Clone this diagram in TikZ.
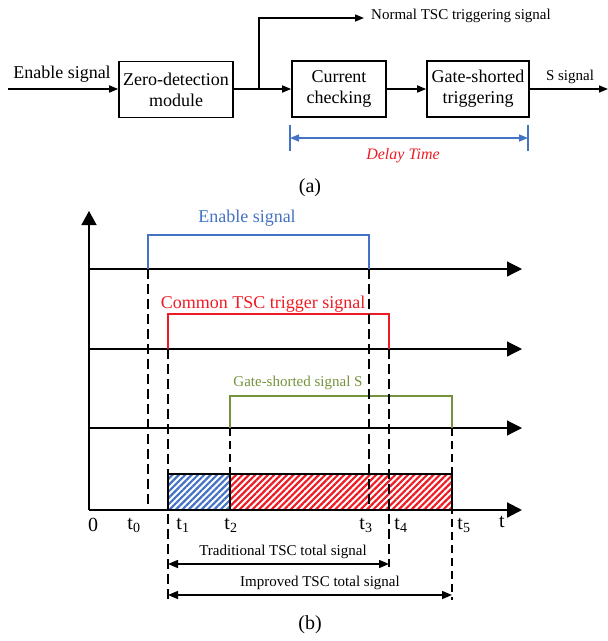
\documentclass[tikz,border=0pt]{standalone}
\usepackage{fontspec}
\setmainfont{Liberation Serif}
\usetikzlibrary{arrows.meta,patterns.meta}
\definecolor{eblue}{RGB}{68,114,196}
\definecolor{ered}{RGB}{237,28,36}
\definecolor{egreen}{RGB}{118,146,60}
\begin{document}
\begin{tikzpicture}[x=1pt,y=-1pt,
  blk/.style={draw,line width=1.6pt,minimum width=#1,minimum height=56pt,inner sep=0pt,align=center,font=\fontsize{18}{21}\selectfont},
  sarr/.style={line width=1.6pt,-{Triangle[length=9pt,width=7pt]}},
  darr/.style={line width=1.5pt,{Triangle[length=10pt,width=8pt]}-{Triangle[length=10pt,width=8pt]}},
  axisarr/.style={line width=1.2pt,-{Triangle[length=15pt,width=15pt]}},
  vdash/.style={line width=2.7pt,dash pattern=on 10pt off 5pt},
  tdash/.style={line width=1.5pt,dash pattern=on 8pt off 5pt},
  pulse/.style={line width=2pt},
  lbl/.style={font=\fontsize{15}{18}\selectfont,inner sep=0pt},
  big/.style={font=\fontsize{18}{21}\selectfont,inner sep=0pt},
  tl/.style={font=\fontsize{20}{24}\selectfont,inner sep=0pt},
  hatch/.style={pattern={Lines[angle=45,distance=4.5pt,line width=2.2pt]},pattern color=#1}
  ]
\useasboundingbox (0,0) rectangle (608,641);
% ---------------- (a) ----------------
\node[big] (en) at (62,74) {Enable signal};
\node[blk=114pt] (zd) at (176,89.5) {Zero-detection\\module};
\node[blk=94pt] (cc) at (339,89) {Current\\checking};
\node[blk=102pt] (gs) at (478,89) {Gate-shorted\\triggering};
\coordinate (in) at (8,89);
\coordinate (br) at (259,89);
\coordinate (nt) at (364,18);
\coordinate (sout) at (608,89);
\node[lbl,anchor=west] (nts) at (371,16) {Normal TSC triggering signal};
\node[lbl] (ss) at (570,77) {S signal};
\draw[sarr] (in) -- (in -| zd.west);
\draw[sarr] (zd.east |- br) -- (br -| cc.west);
\draw[sarr] (br) |- (nt);
\draw[sarr] (cc.east) -- (gs.west);
\draw[sarr] (gs.east) -- (sout);
\coordinate (dl) at (290,138);
\coordinate (dr) at (528,138);
\draw[eblue,line width=1.5pt] (290,125) -- (290,151) (528,125) -- (528,151);
\draw[eblue,line width=1.5pt,{Triangle[length=9pt,width=7pt]}-{Triangle[length=9pt,width=7pt]}] (dl) -- (dr);
\node[inner sep=0pt,text=ered,font=\fontsize{16}{19}\selectfont\itshape] (dt) at (403,156) {Delay Time};
\node[tl] (la) at (310,188) {(a)};
% ---------------- (b) ----------------
\coordinate (o) at (89,510);
\coordinate (ytop) at (89,211);
\draw[line width=1.6pt,-{Triangle[length=14pt,width=15pt]}] (o) -- (ytop);
% hatched bars
\fill[hatch=eblue] (168,474) rectangle (230,510);
\fill[hatch=ered] (230,474) rectangle (452,510);
\draw[line width=1.6pt] (168,510) -- (168,474) -- (452,474) -- (452,510);
\draw[line width=1.3pt] (230,474) -- (230,510);
% axes
\draw[axisarr] (89,269) -- (522,269);
\draw[axisarr] (89,349) -- (522,349);
\draw[axisarr] (89,428) -- (522,428);
\draw[line width=2.2pt,-{Triangle[length=15pt,width=15pt]}] (o) -- (522,510);
% pulses
\draw[pulse,eblue] (148,269) |- (369,235) -- (369,269);
\draw[pulse,ered] (168,349) |- (389,314) -- (389,349);
\draw[pulse,egreen] (230,428) |- (452,396) -- (452,428);
\node[big,text=eblue] (ens) at (247,218) {Enable signal};
\node[big,text=ered] (cts) at (263,304) {Common TSC trigger signal};
\node[lbl,text=egreen] (gss) at (298,383) {Gate-shorted signal S};
% dashed guides
\draw[vdash] (148,269) -- (148,510);
\draw[vdash] (168,349) -- (168,600);
\draw[vdash] (369,269) -- (369,510);
\draw[vdash] (389,349) -- (389,567);
\draw[tdash] (230,428) -- (230,474);
\draw[tdash] (452,428) -- (452,600);
% tick labels
\node[tl] (l0) at (93,525) {0};
\node[tl] (lt0) at (134,525) {t\textsubscript{0}};
\node[tl] (lt1) at (183,525) {t\textsubscript{1}};
\node[tl] (lt2) at (231,525) {t\textsubscript{2}};
\node[tl] (lt3) at (366,525) {t\textsubscript{3}};
\node[tl] (lt4) at (401,525) {t\textsubscript{4}};
\node[tl] (lt5) at (464,525) {t\textsubscript{5}};
\node[tl] (lt) at (502,522) {t};
% total signal arrows
\coordinate (tra) at (168,564);
\coordinate (trb) at (389,564);
\coordinate (ima) at (168,595);
\coordinate (imb) at (452,595);
\draw[darr] (tra) -- (trb);
\draw[darr] (ima) -- (imb);
\node[lbl] (trl) at (283,552) {Traditional TSC total signal};
\node[lbl] (iml) at (320,583) {Improved TSC total signal};
\node[tl] (lb) at (310,625) {(b)};
\end{tikzpicture}
\end{document}
